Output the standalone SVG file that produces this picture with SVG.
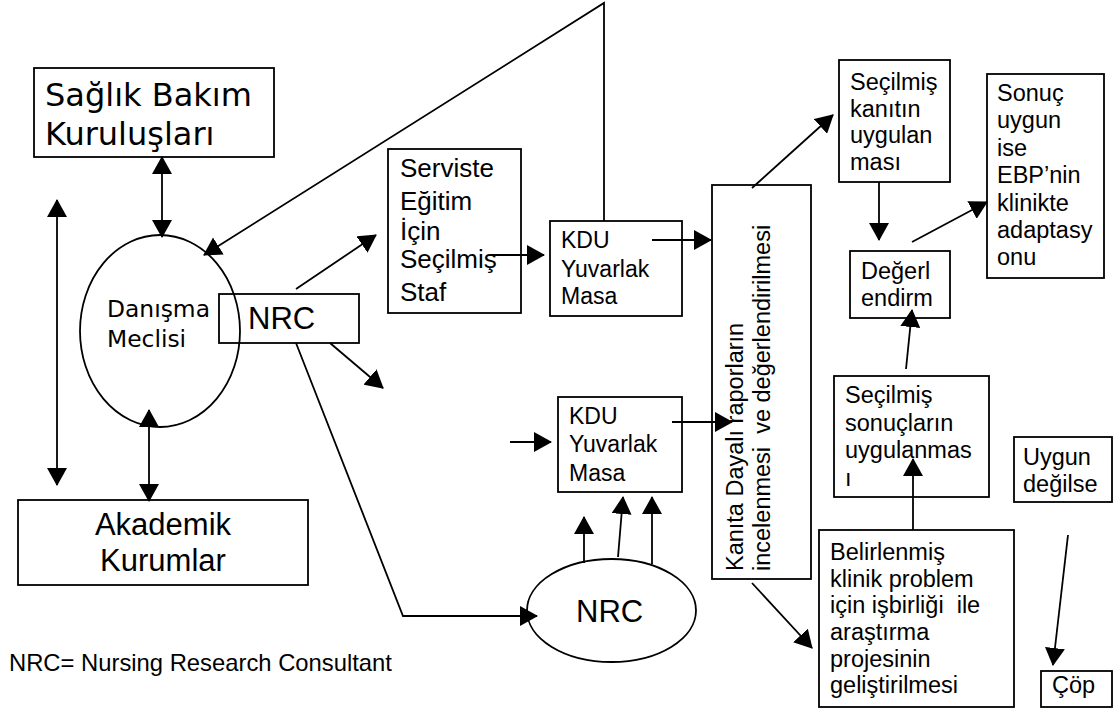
<svg xmlns="http://www.w3.org/2000/svg" width="1114" height="713" viewBox="0 0 1114 713">
<defs>
<marker id="ah" markerUnits="userSpaceOnUse" markerWidth="18" markerHeight="20" viewBox="0 0 18 20" refX="17" refY="10" orient="auto-start-reverse">
<path d="M0,0 L18,10 L0,20 z" fill="#000"/>
</marker>
</defs>
<style>
.box{fill:none;stroke:#000;stroke-width:1.8}
.ell{fill:none;stroke:#000;stroke-width:1.8}
.ln{fill:none;stroke:#000;stroke-width:1.8}
.ar{fill:none;stroke:#000;stroke-width:1.8;marker-end:url(#ah)}
.dar{fill:none;stroke:#000;stroke-width:1.8;marker-start:url(#ah);marker-end:url(#ah)}
.t{font-family:"Liberation Sans",Arial,sans-serif;fill:#000;white-space:pre}
.v{font-family:"DejaVu Sans",Verdana,sans-serif;fill:#000}
</style>
<rect width="1114" height="713" fill="#fff"/>

<g id="saglik">
<rect class="box" x="34" y="68" width="240" height="89"/>
<text class="v" font-size="32" x="45" y="106">Sağlık Bakım</text>
<text class="v" font-size="32" x="45" y="145">Kuruluşları</text>
</g>

<g id="danisma">
<ellipse class="ell" cx="160" cy="331" rx="80" ry="96"/>
<text class="v" font-size="23.4" x="107" y="317">Danışma</text>
<text class="v" font-size="23.4" x="107" y="347">Meclisi</text>
</g>

<g id="nrc-box">
<rect class="box" x="219" y="294" width="140" height="49"/>
<text class="t" font-size="31" x="248" y="329">NRC</text>
</g>

<g id="akademik">
<rect class="box" x="18" y="500" width="290" height="85"/>
<text class="t" font-size="31" x="163" y="535" text-anchor="middle">Akademik</text>
<text class="t" font-size="31" x="163" y="571" text-anchor="middle">Kurumlar</text>
</g>

<g id="legend">
<text class="t" font-size="23.8" x="9" y="671">NRC= Nursing Research Consultant</text>
</g>

<g id="serviste">
<rect class="box" x="388" y="149" width="133" height="164"/>
<text class="t" font-size="26" x="400" y="177">Serviste</text>
<text class="t" font-size="26" x="400" y="210">Eğitim</text>
<text class="t" font-size="26" x="400" y="240">İçin</text>
<text class="t" font-size="26" x="400" y="268">Seçilmiş</text>
<text class="t" font-size="26" x="400" y="301">Staf</text>
</g>

<g id="kdu1">
<rect class="box" x="550" y="221" width="132" height="95"/>
<text class="t" font-size="23" x="561" y="248">KDU</text>
<text class="t" font-size="23" x="561" y="277">Yuvarlak</text>
<text class="t" font-size="23" x="561" y="304">Masa</text>
</g>

<g id="kdu2">
<rect class="box" x="558" y="397" width="124" height="95"/>
<text class="t" font-size="23" x="569" y="424">KDU</text>
<text class="t" font-size="23" x="569" y="452">Yuvarlak</text>
<text class="t" font-size="23" x="569" y="481">Masa</text>
</g>

<g id="nrc-ellipse">
<ellipse class="ell" cx="611.5" cy="610.5" rx="84.5" ry="51.5"/>
<text class="t" font-size="31" x="576" y="622">NRC</text>
</g>

<g id="kanita">
<rect class="box" x="712" y="185" width="99" height="394"/>
<text class="t" font-size="23.5" transform="translate(743,571) rotate(-90)">Kanıta Dayalı raporların</text>
<text class="t" font-size="23.5" transform="translate(770,571) rotate(-90)">incelenmesi  ve değerlendirilmesi</text>
</g>

<g id="secilmis-kanit">
<rect class="box" x="839" y="60" width="111" height="122"/>
<text class="t" font-size="23.5" x="850" y="90">Seçilmiş</text>
<text class="t" font-size="23.5" x="850" y="117">kanıtın</text>
<text class="t" font-size="23.5" x="850" y="143">uygulan</text>
<text class="t" font-size="23.5" x="850" y="170">ması</text>
</g>

<g id="degerlendirme">
<rect class="box" x="850" y="251" width="100" height="67"/>
<text class="t" font-size="23.5" x="861" y="279">Değerl</text>
<text class="t" font-size="23.5" x="861" y="306">endirm</text>
</g>

<g id="sonuc">
<rect class="box" x="987" y="74" width="117" height="204"/>
<text class="t" font-size="23.5" x="997" y="101">Sonuç</text>
<text class="t" font-size="23.5" x="997" y="128.4">uygun</text>
<text class="t" font-size="23.5" x="997" y="155.8">ise</text>
<text class="t" font-size="23.5" x="997" y="183.2">EBP’nin</text>
<text class="t" font-size="23.5" x="997" y="210.6">klinikte</text>
<text class="t" font-size="23.5" x="997" y="238">adaptasy</text>
<text class="t" font-size="23.5" x="997" y="265.4">onu</text>
</g>

<g id="secilmis-sonuc">
<rect class="box" x="834" y="376" width="155" height="121"/>
<text class="t" font-size="23.5" x="845" y="403">Seçilmiş</text>
<text class="t" font-size="23.5" x="845" y="430.5">sonuçların</text>
<text class="t" font-size="23.5" x="845" y="458">uygulanmas</text>
<text class="t" font-size="23.5" x="845" y="485.5">ı</text>
</g>

<g id="belirlenmis">
<rect class="box" x="819" y="530" width="195" height="177"/>
<text class="t" font-size="23.5" x="830" y="560">Belirlenmiş</text>
<text class="t" font-size="23.5" x="830" y="586.5">klinik problem</text>
<text class="t" font-size="23.5" x="830" y="613">için işbirliği  ile</text>
<text class="t" font-size="23.5" x="830" y="640">araştırma</text>
<text class="t" font-size="23.5" x="830" y="667">projesinin</text>
<text class="t" font-size="23.5" x="830" y="693">geliştirilmesi</text>
</g>

<g id="uygun-degilse">
<rect class="box" x="1014" y="437" width="98" height="65"/>
<text class="t" font-size="23.5" x="1023" y="465">Uygun</text>
<text class="t" font-size="23.5" x="1023" y="492">değilse</text>
</g>

<g id="cop">
<rect class="box" x="1041" y="671" width="71" height="36"/>
<text class="t" font-size="23.5" x="1052" y="693">Çöp</text>
</g>

<g id="connectors">
<line class="dar" x1="162" y1="157" x2="162" y2="237"/>
<line class="dar" x1="57" y1="200" x2="57" y2="485"/>
<line class="dar" x1="149" y1="410" x2="149" y2="501"/>
<polyline class="ar" points="604,221 604,3 204,255"/>
<line class="ar" x1="296" y1="289" x2="376" y2="235"/>
<line class="ar" x1="330" y1="343" x2="383" y2="388"/>
<polyline class="ar" points="296,343 403,616 537,616"/>
<line class="ar" x1="584" y1="563" x2="584" y2="517"/>
<line class="ar" x1="618" y1="557" x2="623" y2="497"/>
<line class="ar" x1="652" y1="564" x2="652" y2="497"/>
<line class="ar" x1="510" y1="442" x2="551" y2="442"/>
<line class="ar" x1="490" y1="255" x2="544" y2="255"/>
<line class="ar" x1="652" y1="240" x2="711" y2="240"/>
<line class="ar" x1="672" y1="422" x2="732" y2="422"/>
<line class="ar" x1="752" y1="188" x2="833" y2="115"/>
<line class="ar" x1="752" y1="583" x2="812" y2="648"/>
<line class="ar" x1="879" y1="182" x2="879" y2="240"/>
<line class="ar" x1="912" y1="242" x2="987" y2="202"/>
<line class="ar" x1="906" y1="369" x2="912" y2="310"/>
<line class="ar" x1="913" y1="530" x2="913" y2="459"/>
<line class="ar" x1="1068" y1="535" x2="1053" y2="665"/>
</g>
</svg>
